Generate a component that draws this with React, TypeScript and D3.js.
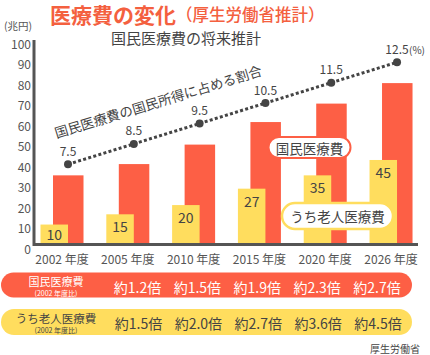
import React from "react";
import * as d3 from "d3";

const years = ["2002", "2005", "2010", "2015", "2020", "2026"];
const totalCost = [33, 38.5, 48, 59, 68, 78];
const elderlyCost = [9, 14, 18.5, 26.5, 33, 40.5];
const elderlyLabels = ["10", "15", "20", "27", "35", "45"];
const ratioPct = [7.5, 8.5, 9.5, 10.5, 11.5, 12.5];
const ratioLabels = ["7.5", "8.5", "9.5", "10.5", "11.5", "12.5"];
const yTicks = [0, 10, 20, 30, 40, 50, 60, 70, 80, 90, 100];
const totalRatios = ["約1.2倍", "約1.5倍", "約1.9倍", "約2.3倍", "約2.7倍"];
const elderlyRatios = ["約1.5倍", "約2.0倍", "約2.7倍", "約3.6倍", "約4.5倍"];

const RED = "#fd5f45";
const YELLOW = "#ffdd5e";
const AXIS = "#555";
const TEXT = "#444";
const FONT = "'Noto Sans CJK JP', 'Noto Sans', sans-serif";

export default function App() {
  const x = d3.scaleBand<string>().domain(years).range([40.5, 412.5]).paddingInner(0.347).paddingOuter(0);
  const y = d3.scaleLinear().domain([0, 100]).range([243, 38]);
  const p = d3.scaleLinear().domain([7.5, 12.5]).range([164.3, 62.3]);
  const yW = 27.5;
  const rOff = 12.5;
  const rW = 30.5;
  const line = d3
    .line<number>()
    .x((_, i) => (x(years[i]) as number) + yW)
    .y((d) => p(d));
  const ratioX = d3.scalePoint<number>().domain([0, 1, 2, 3, 4]).range([137.5, 377]);

  return (
    <div style={{ position: "fixed", left: 0, top: 0 }}>
      <svg width={430} height={355} style={{ display: "block", fontFamily: FONT }}>
        <rect width={430} height={355} fill="#fff" />
        {/* title */}
        <text x={50} y={13.5} fill="#f4603f" fontSize={21} fontWeight={700} dominantBaseline="central">
          医療費の変化
          <tspan fontSize={16.5} fontWeight={500}>（厚生労働省推計）</tspan>
        </text>
        <text x={4} y={25.5} fontSize={10.5} fill={AXIS} dominantBaseline="central">(兆円)</text>
        <text x={186} y={37.5} fontSize={15} fill={TEXT} textAnchor="middle" dominantBaseline="central">
          国民医療費の将来推計
        </text>

        {/* y ticks */}
        {yTicks.map((t) => (
          <text key={t} x={31} y={y(t) + 5} fontSize={12} fill={AXIS} textAnchor="end" dominantBaseline="central">
            {t}
          </text>
        ))}

        {/* bars */}
        {years.map((yr, i) => (
          <g key={yr}>
            <rect x={(x(yr) as number) + rOff} y={y(totalCost[i])} width={rW} height={y(0) - y(totalCost[i])} fill={RED} />
            <rect x={x(yr) as number} y={y(elderlyCost[i])} width={yW} height={y(0) - y(elderlyCost[i])} fill={YELLOW} />
            <text
              x={(x(yr) as number) + yW / 2}
              y={Math.min(y(elderlyCost[i]) + 12, y(0) - 9)}
              fontSize={14}
              fill={TEXT}
              textAnchor="middle"
              dominantBaseline="central"
            >
              {elderlyLabels[i]}
            </text>
            <text
              x={(x(yr) as number) + x.bandwidth() / 2}
              y={258}
              fontSize={12}
              fill={AXIS}
              textAnchor="middle"
              dominantBaseline="central"
            >
              {yr} 年度
            </text>
          </g>
        ))}

        {/* axes */}
        <line x1={34} x2={34} y1={40} y2={246} stroke={AXIS} strokeWidth={3} />
        <line x1={34} x2={418} y1={244.5} y2={244.5} stroke={AXIS} strokeWidth={3} />

        {/* ratio line */}
        <path d={line(ratioPct) || ""} fill="none" stroke={TEXT} strokeWidth={3} strokeDasharray="3 2.3" />
        {ratioPct.map((v, i) => (
          <g key={i}>
            <circle cx={(x(years[i]) as number) + yW} cy={p(v)} r={4} fill={TEXT} />
            <text
              x={(x(years[i]) as number) + yW}
              y={p(v) - 14}
              fontSize={12}
              fill={TEXT}
              textAnchor="middle"
              dominantBaseline="central"
            >
              {ratioLabels[i]}
            </text>
          </g>
        ))}
        <text x={409} y={49} fontSize={10} fill={TEXT} dominantBaseline="central">(%)</text>
        <text
          transform="translate(158,101) rotate(-17)"
          fontSize={13.5}
          fill={TEXT}
          textAnchor="middle"
          dominantBaseline="central"
        >
          国民医療費の国民所得に占める割合
        </text>

        {/* in-chart legend pills */}
        <rect x={268.5} y={137} width={82} height={21} rx={10.5} fill="#fff" stroke={RED} strokeWidth={2} />
        <text x={309.5} y={147.5} fontSize={13.5} fill={TEXT} textAnchor="middle" dominantBaseline="central">国民医療費</text>
        <rect x={282} y={203} width={111} height={26} rx={13} fill="#fff" stroke={YELLOW} strokeWidth={2.5} />
        <text x={337.5} y={216} fontSize={13.5} fill={TEXT} textAnchor="middle" dominantBaseline="central">うち老人医療費</text>

        {/* bottom rows */}
        <rect x={1} y={272.5} width={411} height={25} rx={12.5} fill={RED} />
        <text x={56} y={280.5} fontSize={11} fill="#fff" textAnchor="middle" dominantBaseline="central">国民医療費</text>
        <text x={56} y={293} fontSize={7} fill="#fff" textAnchor="middle" dominantBaseline="central">(2002 年度比)</text>
        {totalRatios.map((t, i) => (
          <text key={t} x={ratioX(i)} y={286.5} fontSize={14} fill="#fff" textAnchor="middle" dominantBaseline="central">{t}</text>
        ))}
        <rect x={1} y={309} width={411} height={26} rx={13} fill={YELLOW} />
        <text x={56} y={317.5} fontSize={11.5} fill={TEXT} textAnchor="middle" dominantBaseline="central">うち老人医療費</text>
        <text x={56} y={330} fontSize={7} fill={TEXT} textAnchor="middle" dominantBaseline="central">(2002 年度比)</text>
        {elderlyRatios.map((t, i) => (
          <text key={t} x={ratioX(i) + 1} y={322.5} fontSize={14} fill={TEXT} textAnchor="middle" dominantBaseline="central">{t}</text>
        ))}
        <text x={420} y={348} fontSize={10} fill={TEXT} textAnchor="end" dominantBaseline="central">厚生労働省</text>
      </svg>
    </div>
  );
}
